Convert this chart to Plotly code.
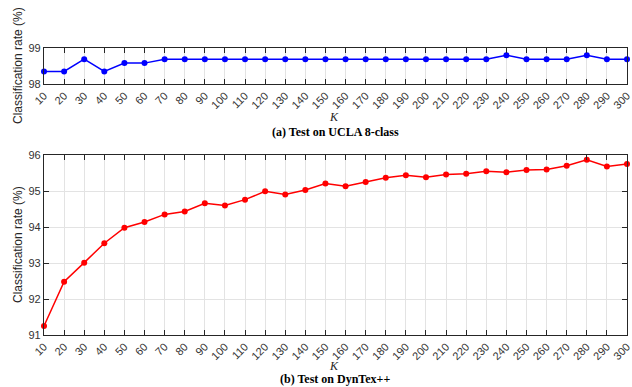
import plotly.graph_objects as go

K = [10, 20, 30, 40, 50, 60, 70, 80, 90, 100, 110, 120, 130, 140, 150,
     160, 170, 180, 190, 200, 210, 220, 230, 240, 250, 260, 270, 280, 290, 300]
ucla_rate = [98.35, 98.35, 98.69, 98.35, 98.58, 98.58, 98.69, 98.69, 98.69, 98.69,
             98.69, 98.69, 98.69, 98.69, 98.69, 98.69, 98.69, 98.69, 98.69, 98.69,
             98.69, 98.69, 98.69, 98.80, 98.69, 98.69, 98.69, 98.80, 98.69, 98.69]
dyntex_rate = [91.25, 92.48, 93.01, 93.55, 93.98, 94.14, 94.35, 94.43, 94.66, 94.60,
               94.76, 94.99, 94.90, 95.03, 95.21, 95.13, 95.25, 95.37, 95.44, 95.38,
               95.46, 95.48, 95.55, 95.52, 95.58, 95.60, 95.70, 95.87, 95.68, 95.75]
ucla_yticks = [98, 99]
dyntex_yticks = [91, 92, 93, 94, 95, 96]

W, H = 632, 387
X0, X1 = 44, 627

def py(v):
    return 1 - v / H

fig = go.Figure()
fig.add_trace(go.Scatter(x=K, y=ucla_rate, mode="lines+markers",
                         line=dict(color="#0000ff", width=1.5),
                         marker=dict(color="#0000ff", size=6),
                         xaxis="x", yaxis="y", showlegend=False, cliponaxis=False))
fig.add_trace(go.Scatter(x=K, y=dyntex_rate, mode="lines+markers",
                         line=dict(color="#ff0000", width=1.5),
                         marker=dict(color="#ff0000", size=6),
                         xaxis="x2", yaxis="y2", showlegend=False, cliponaxis=False))

tickfont = dict(family="Liberation Sans, Arial", size=11, color="#333333")
common_x = dict(range=[10, 300], tickvals=K, ticktext=[str(k) for k in K],
                tickangle=-45, ticks="inside", ticklen=5, tickcolor="#262626",
                showline=True, linecolor="#262626", linewidth=1.2, mirror="ticks",
                showgrid=True, gridcolor="#e3e3e3", gridwidth=1, zeroline=False,
                tickfont=tickfont, domain=[X0 / W, X1 / W], automargin=False,
                ticklabeloverflow="allow")
common_y = dict(ticks="inside", ticklen=5, tickcolor="#262626",
                showline=True, linecolor="#262626", linewidth=1.2, mirror="ticks",
                showgrid=True, gridcolor="#e3e3e3", gridwidth=1, zeroline=False,
                tickfont=tickfont, automargin=False, ticklabeloverflow="allow")

fig.update_layout(
    width=W, height=H,
    margin=dict(l=0, r=0, t=0, b=0),
    paper_bgcolor="white", plot_bgcolor="white",
    xaxis=dict(common_x, anchor="y"),
    yaxis=dict(common_y, range=[98, 99], tickvals=ucla_yticks,
               domain=[py(84), py(48)], anchor="x"),
    xaxis2=dict(common_x, anchor="y2"),
    yaxis2=dict(common_y, range=[91, 96], tickvals=dyntex_yticks,
                domain=[py(335), py(155)], anchor="x2"),
)

serif = "Liberation Serif, DejaVu Serif, serif"
ann = [
    dict(text="Classification rate (%)", x=18 / W, y=py(66), textangle=-90,
         font=dict(family="Liberation Sans, Arial", size=12, color="#262626")),
    dict(text="Classification rate (%)", x=18 / W, y=py(245), textangle=-90,
         font=dict(family="Liberation Sans, Arial", size=12, color="#262626")),
    dict(text="<i>K</i>", x=334 / W, y=py(117),
         font=dict(family=serif, size=12, color="#262626")),
    dict(text="<i>K</i>", x=334 / W, y=py(365.5),
         font=dict(family=serif, size=12, color="#262626")),
    dict(text="<b>(a) Test on UCLA 8-class</b>", x=335 / W, y=py(132),
         font=dict(family=serif, size=12, color="black")),
    dict(text="<b>(b) Test on DynTex++</b>", x=335 / W, y=py(379),
         font=dict(family=serif, size=12, color="black")),
]
for a in ann:
    fig.add_annotation(xref="paper", yref="paper", showarrow=False,
                       xanchor="center", yanchor="middle", borderpad=0, **a)

fig.write_html("out.html", config={"displayModeBar": False},
               post_script="document.body.style.margin='0px';document.body.style.overflow='hidden';")
